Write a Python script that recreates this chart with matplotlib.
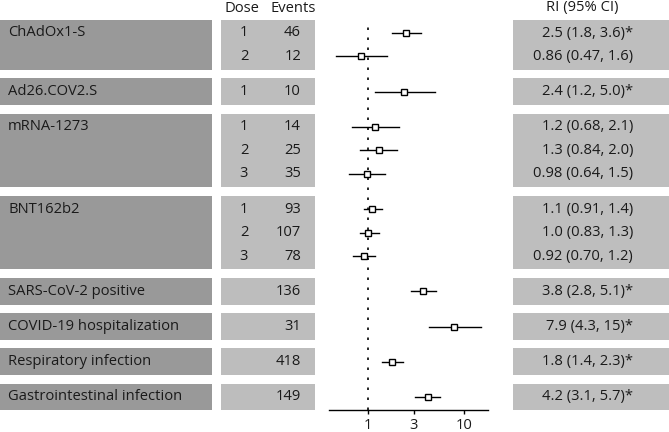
import matplotlib
matplotlib.use("Agg")
import matplotlib.pyplot as plt
from matplotlib.patches import Rectangle
import numpy as np

plt.rcParams['font.family'] = ['Open Sans', 'DejaVu Sans']

groups = ["ChAdOx1-S", "Ad26.COV2.S", "mRNA-1273", "BNT162b2",
          "SARS-CoV-2 positive", "COVID-19 hospitalization",
          "Respiratory infection", "Gastrointestinal infection"]
doses = [["1", "2"], ["1"], ["1", "2", "3"], ["1", "2", "3"], [""], [""], [""], [""]]
events = [[46, 12], [10], [14, 25, 35], [93, 107, 78], [136], [31], [418], [149]]
est = [[2.5, 0.86], [2.4], [1.2, 1.3, 0.98], [1.1, 1.0, 0.92], [3.8], [7.9], [1.8], [4.2]]
lo = [[1.8, 0.47], [1.2], [0.68, 0.84, 0.64], [0.91, 0.83, 0.70], [2.8], [4.3], [1.4], [3.1]]
hi = [[3.6, 1.6], [5.0], [2.1, 2.0, 1.5], [1.4, 1.3, 1.2], [5.1], [15], [2.3], [5.7]]
labels = [["2.5 (1.8, 3.6)*", "0.86 (0.47, 1.6)"], ["2.4 (1.2, 5.0)*"],
          ["1.2 (0.68, 2.1)", "1.3 (0.84, 2.0)", "0.98 (0.64, 1.5)"],
          ["1.1 (0.91, 1.4)", "1.0 (0.83, 1.3)", "0.92 (0.70, 1.2)"],
          ["3.8 (2.8, 5.1)*"], ["7.9 (4.3, 15)*"], ["1.8 (1.4, 2.3)*"], ["4.2 (3.1, 5.7)*"]]
xticks = [1, 3, 10]

W, H = 669, 432
fig = plt.figure(figsize=(W / 100, H / 100), dpi=100)

# layout in pixels
row0_px, step_px = 33.0, 23.48
def px_to_u(p):
    return (p - row0_px) / step_px

# compute row positions
ys = []
u = 0.0
for gi, g in enumerate(groups):
    if gi > 0:
        u += 1.5
    rows = []
    for k in range(len(est[gi])):
        if k > 0:
            u += 1.0
        rows.append(u)
    ys.append(rows)

# background axes covering the figure
bg = fig.add_axes([0, 0, 1, 1])
bg.set_xlim(0, W)
bg.set_ylim(px_to_u(H), px_to_u(0))
bg.axis('off')

dark = '#999999'
mid = '#bdbdbd'
light = '#bebebe'
tc = '#1a1a1a'
hh = 0.57
fs = 10.6
for gi, g in enumerate(groups):
    top = ys[gi][0] - hh
    bot = ys[gi][-1] + hh
    bg.add_patch(Rectangle((0, top), 212, bot - top, facecolor=dark, edgecolor='none'))
    bg.add_patch(Rectangle((221, top), 94, bot - top, facecolor=mid, edgecolor='none'))
    bg.add_patch(Rectangle((513, top), 156, bot - top, facecolor=light, edgecolor='none'))
    bg.text(8, ys[gi][0], g, ha='left', va='center', fontsize=fs, color=tc)
    for k, y in enumerate(ys[gi]):
        bg.text(244, y, doses[gi][k], ha='center', va='center', fontsize=fs, color=tc)
        bg.text(301, y, str(events[gi][k]), ha='right', va='center', fontsize=fs, color=tc)
        bg.text(633, y, labels[gi][k], ha='right', va='center', fontsize=fs, color=tc)

hy = px_to_u(8)
bg.text(242, hy, "Dose", ha='center', va='center', fontsize=fs, color=tc)
bg.text(293, hy, "Events", ha='center', va='center', fontsize=fs, color=tc)
bg.text(582, hy, "RI (95% CI)", ha='center', va='center', fontsize=fs, color=tc)

# forest axes
ax_l, ax_r, ax_t, ax_b = 329, 488, 20, 410
ax = fig.add_axes([ax_l / W, (H - ax_b) / H, (ax_r - ax_l) / W, (ax_b - ax_t) / H])
ax.patch.set_alpha(0)
ax.set_xscale('log')
all_lo = min(min(r) for r in lo)
all_hi = max(max(r) for r in hi)
span = np.log10(all_hi) - np.log10(all_lo)
ax.set_xlim(10 ** (np.log10(all_lo) - 0.05 * span), 10 ** (np.log10(all_hi) + 0.05 * span))
ax.set_ylim(px_to_u(ax_b), px_to_u(ax_t))
ax.axvline(1, color='black', lw=1.2, linestyle=(0, (1.5, 4.5)), zorder=1)
for gi in range(len(groups)):
    for k, y in enumerate(ys[gi]):
        ax.plot([lo[gi][k], hi[gi][k]], [y, y], color='black', lw=1.0, zorder=2)
        ax.plot([est[gi][k]], [y], marker='s', markersize=5, markerfacecolor='white',
                markeredgecolor='black', markeredgewidth=1.0, linestyle='none', zorder=3)
for s in ['top', 'left', 'right']:
    ax.spines[s].set_visible(False)
ax.spines['bottom'].set_linewidth(1.0)
ax.set_yticks([])
ax.set_xticks(xticks)
ax.set_xticklabels([str(t) for t in xticks])
ax.xaxis.set_minor_locator(matplotlib.ticker.NullLocator())
ax.tick_params(axis='x', length=3, width=1, labelsize=fs, pad=3, colors='black', labelcolor=tc)

fig.savefig('out.png', dpi=100)
